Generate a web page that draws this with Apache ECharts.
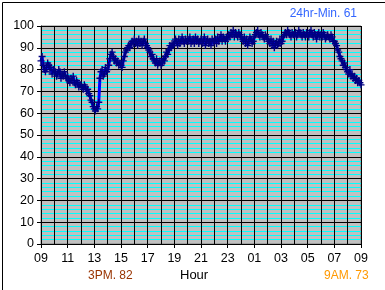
<!DOCTYPE html>
<html><head><meta charset="utf-8">
<script src="https://cdn.jsdelivr.net/npm/echarts@6/dist/echarts.min.js"></script>
<style>html,body{margin:0;padding:0;background:#fff}#c{width:385px;height:290px}</style>
</head><body><div id="c"></div>
<script>
// x tick labels (every 2 hours, starting at 09)
const hourLabels = ['09','11','13','15','17','19','21','23','01','03','05','07','09'];
// readings every 5 minutes, from 09:00 to 09:00 next day
const readings = [
 84,86,82,80,79,81,83,82,80,81,78,80,
 80,79,77,78,80,79,76,78,77,79,77,76,
 77,75,74,76,75,77,74,73,75,74,72,73,
 73,72,71,73,72,70,71,69,68,66,65,63,
 62,61,63,62,65,76,79,80,77,78,81,79,
 80,82,85,87,88,86,84,85,83,84,82,83,
 82,81,84,86,88,89,90,91,90,92,93,92,
 94,92,93,91,94,92,93,91,93,94,92,91,
 90,89,88,86,87,85,84,83,85,82,83,84,
 82,83,85,84,86,88,87,89,91,90,92,91,
 92,94,93,91,94,92,93,95,93,92,94,93,
 94,93,95,92,93,94,92,95,93,94,92,93,
 94,92,93,95,91,93,94,92,93,91,94,93,
 93,94,92,95,93,94,96,93,95,94,93,95,
 94,96,95,97,96,98,95,97,96,95,97,96,
 95,94,93,95,92,94,91,93,95,94,92,93,
 95,96,97,98,96,95,97,96,95,94,96,95,
 94,93,92,94,91,93,90,92,93,91,92,94,
 92,93,95,96,97,96,98,97,96,95,97,96,
 96,97,95,96,98,97,96,95,97,96,95,97,
 96,95,97,98,96,95,97,96,94,96,97,95,
 96,95,97,96,94,95,96,95,94,96,95,93,
 93,92,91,89,88,86,85,84,82,83,81,80,
 79,78,80,77,78,76,77,75,76,74,75,74,
 73
];
const samplesPerHour = 12;
const midnightHour = 15;
const minText = '24hr-Min. 61';
const pmText = '3PM. 82';
const amText = '9AM. 73';
const axisName = 'Hour';

const seriesData = readings.map((v, i) => [i / samplesPerHour, v]);
const FONT = '"Liberation Sans", Arial, sans-serif';

const chart = echarts.init(document.getElementById('c'), null, {renderer: 'canvas'});
chart.setOption({
  animation: false,
  backgroundColor: '#ffffff',
  grid: {left: 41, right: 24, top: 26, bottom: 46, show: true, backgroundColor: '#C0C0C0', borderColor: '#808080', borderWidth: 1, z: 0},
  xAxis: {
    type: 'value', min: 0, max: 24, interval: 2, z: 2,
    axisLine: {show: true, onZero: false, lineStyle: {color: '#000', width: 1}},
    axisTick: {show: true, length: 4, lineStyle: {color: '#000'}},
    axisLabel: {color: '#000', fontSize: 12.5, fontFamily: FONT, margin: 8,
      formatter: v => hourLabels[Math.round(v / 2)]},
    splitLine: {show: true, lineStyle: {color: '#000', width: 1}},
    minorTick: {show: false, splitNumber: 2},
    minorSplitLine: {show: true, lineStyle: {color: '#000', width: 1}}
  },
  yAxis: {
    type: 'value', min: 0, max: 100, interval: 10, z: 1,
    axisLine: {show: true, lineStyle: {color: '#000', width: 1}},
    axisTick: {show: true, length: 4, lineStyle: {color: '#000'}},
    axisLabel: {color: '#000', fontSize: 12.5, fontFamily: FONT, margin: 7},
    splitLine: {show: true, lineStyle: {color: '#000', width: 1}},
    minorTick: {show: false, splitNumber: 5},
    minorSplitLine: {show: true, lineStyle: {color: '#00FFFF', width: 1}}
  },
  series: [{
    type: 'line', data: seriesData, z: 3, clip: false,
    showAllSymbol: true,
    symbol: 'path://M0,2.8H7V4.2H0Z M2.8,0H4.2V7H2.8Z', symbolSize: 7,
    itemStyle: {color: '#000080'},
    lineStyle: {color: '#0000FF', width: 3},
    markLine: {
      silent: true, symbol: 'none', label: {show: false},
      lineStyle: {color: '#000', width: 2, type: 'solid'},
      data: [[{coord: [midnightHour, 101]}, {coord: [midnightHour, -6.5]}]]
    }
  }],
  graphic: [
    {type: 'rect', left: 0, top: 0, z: 10, shape: {x: 0.5, y: 0.5, width: 384, height: 289}, style: {fill: 'none', stroke: '#000', lineWidth: 1}},
    {type: 'text', right: 28, top: 8, z: 10, style: {text: minText, fill: '#3366FF', font: '12px ' + FONT}},
    {type: 'text', left: 88, top: 270, z: 10, style: {text: pmText, fill: '#993300', font: '12px ' + FONT}},
    {type: 'text', left: 180, top: 269, z: 10, style: {text: axisName, fill: '#000', font: '13px ' + FONT}},
    {type: 'text', left: 324, top: 270, z: 10, style: {text: amText, fill: '#FF9900', font: '12px ' + FONT}}
  ]
});
</script></body></html>
